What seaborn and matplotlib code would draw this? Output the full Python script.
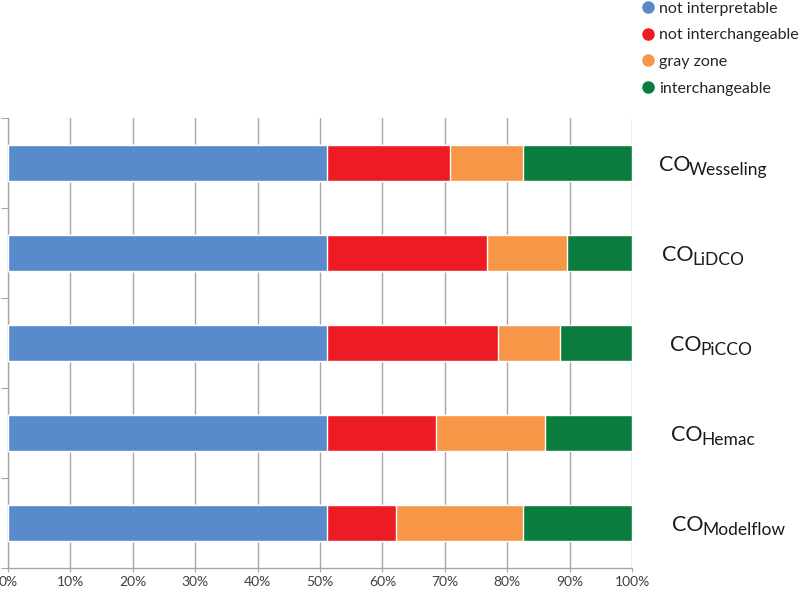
"""
Stacked horizontal bars: interchangeability of CO devices
"""
import numpy as np
import pandas as pd
import matplotlib
matplotlib.use("Agg")
import matplotlib.pyplot as plt
import matplotlib.transforms as mtransforms
from matplotlib.lines import Line2D
import seaborn as sb

# categories (top to bottom) and the share per class, in percent
devices = ["Wesseling", "LiDCO", "PiCCO", "Hemac", "Modelflow"]
not_interpretable = [51.1, 51.1, 51.1, 51.1, 51.1]
not_interchangeable = [19.8, 25.7, 27.5, 17.5, 11.1]
gray_zone = [11.7, 12.8, 9.8, 17.5, 20.4]
interchangeable = [17.4, 10.4, 11.6, 13.9, 17.4]

classes = ["not interpretable", "not interchangeable", "gray zone", "interchangeable"]
colors = ["#578BCB", "#ED1C24", "#F79646", "#0A7D3E"]
x_ticks = [0, 10, 20, 30, 40, 50, 60, 70, 80, 90, 100]

sb.set_style("white")
plt.rcParams["font.family"] = ["Lato", "DejaVu Sans"]

# Build the table and the running totals for the stacking
df = pd.DataFrame({
    "device": devices,
    classes[0]: not_interpretable,
    classes[1]: not_interchangeable,
    classes[2]: gray_zone,
    classes[3]: interchangeable,
})
cum = df[classes].cumsum(axis=1)

fig = plt.figure(figsize=(8, 5.89), dpi=100)
ax = fig.add_axes([0.01, 0.036, 0.78, 0.764])

# Draw from the longest running total down so each segment shows
for cls, col in reversed(list(zip(classes, colors))):
    sb.barplot(x=cum[cls], y=df["device"], color=col, orient="h",
               width=0.4, ax=ax, saturation=1, zorder=3)

ax.set_xlim(0, 100)
ax.set_ylim(len(devices) - 0.5, -0.5)
ax.set_xticks(x_ticks)
ax.set_xticklabels(["{}%".format(t) for t in x_ticks], fontsize=10,
                   color="#404040")
ax.set_xlabel("")
ax.set_ylabel("")

# Gridlines and spines in light gray
ax.grid(axis="x", color="#A6A6A6", linewidth=1, zorder=0)
ax.set_axisbelow(True)
for s in ["top", "right"]:
    ax.spines[s].set_visible(False)
for s in ["left", "bottom"]:
    ax.spines[s].set_color("#A6A6A6")
    ax.spines[s].set_linewidth(1)

# Category ticks sit on the boundaries, labels go to the right
ax.set_yticks(np.arange(len(devices) + 1) - 0.5)
ax.set_yticklabels([])
ax.tick_params(axis="y", length=5, color="#A6A6A6", direction="out", left=True)
ax.tick_params(axis="x", length=3, color="#A6A6A6", direction="out",
               bottom=True, pad=3)

# "CO" with a large, slightly lowered subscript
trans = mtransforms.blended_transform_factory(ax.transAxes, ax.transData)
x_offsets = [1.043, 1.048, 1.061, 1.0625, 1.064]
for i, (dev, xo) in enumerate(zip(devices, x_offsets)):
    t = ax.text(xo, i + 0.03, "CO", transform=trans, fontsize=15.5,
                color="#1a1a1a", va="center", ha="left")
    ax.annotate(dev, xy=(1, 0), xycoords=t, xytext=(-1, -1.5),
                textcoords="offset points", fontsize=12.5, color="#1a1a1a",
                va="bottom", ha="left")

# Legend with round markers, top right
handles = [Line2D([0], [0], marker="o", linestyle="", markersize=8,
                  markerfacecolor=c, markeredgecolor=c) for c in colors]
fig.legend(handles, classes, loc="upper left", bbox_to_anchor=(0.78, 1.022),
           frameon=False, fontsize=11.5, handletextpad=0.1,
           labelspacing=0.78, handlelength=1.2, labelcolor="#262626")

fig.savefig("out.png", dpi=100)
